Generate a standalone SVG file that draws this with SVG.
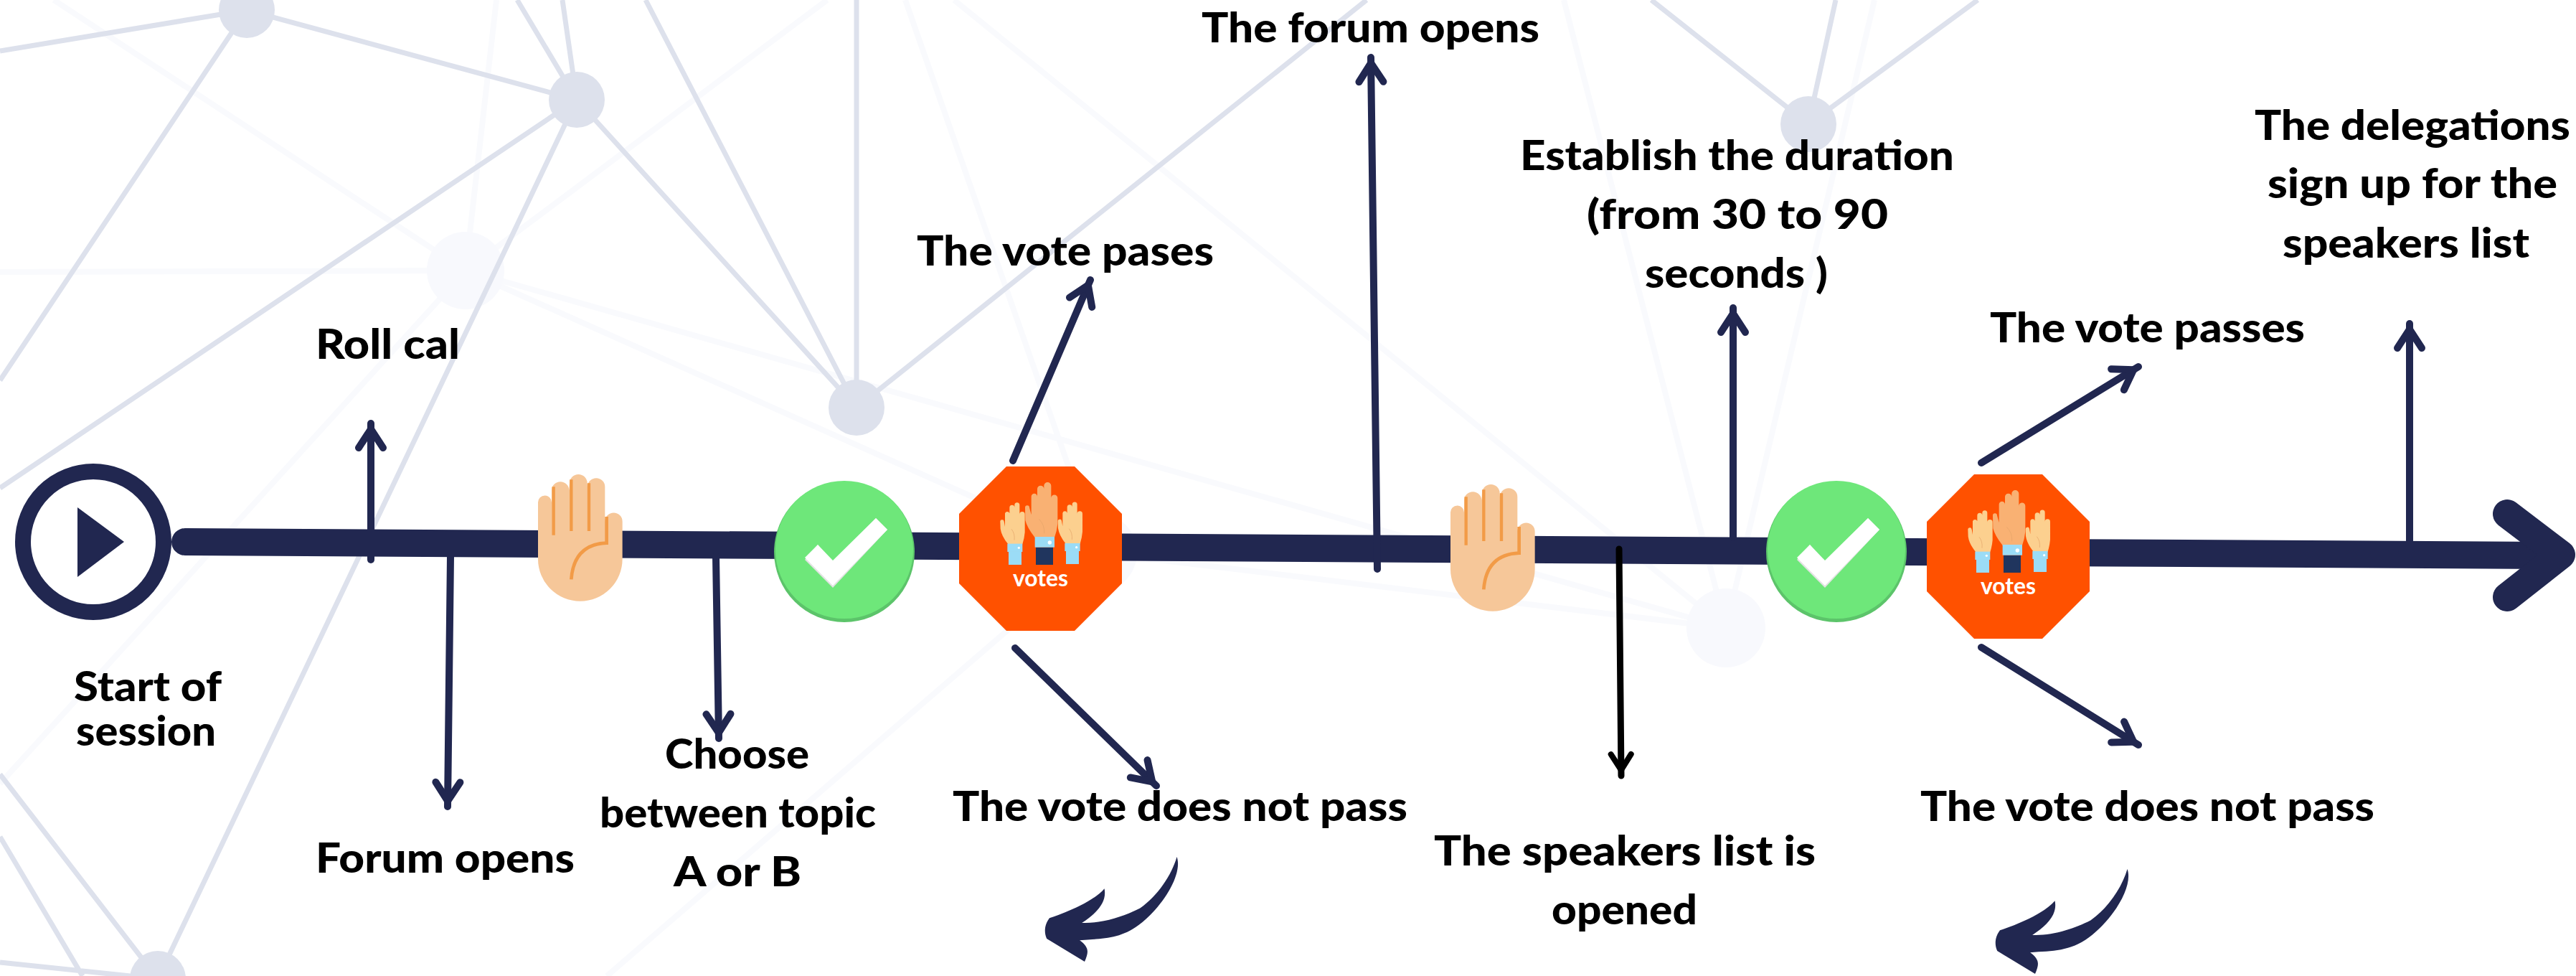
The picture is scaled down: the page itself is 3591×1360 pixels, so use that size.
<svg xmlns="http://www.w3.org/2000/svg" xmlns:xlink="http://www.w3.org/1999/xlink" width="3591" height="1360" viewBox="0 0 3591 1360">
<style>
.d{stroke:#dde1ec;stroke-width:7;fill:none}
.l{stroke:#f9fafd;stroke-width:8;fill:none}
.dn{fill:#dde1ec}
.ln{fill:#f8f9fd}
.t{font-family:"Lato","Liberation Sans",sans-serif;font-weight:900;font-size:58px;fill:#000}
.a{stroke:#212750;stroke-width:10;fill:none;stroke-linecap:round;marker-end:url(#head)}
.k{stroke:#000;stroke-width:9;fill:none;stroke-linecap:round;marker-end:url(#headk)}
.skin{fill:#f6c799}
.cr{stroke:#f29b47;fill:none}
.cuff{fill:#9bdcf6}
.crease{stroke:#e3a368;stroke-width:2;fill:none}
</style>
<defs>
<marker id="head" markerUnits="userSpaceOnUse" markerWidth="60" markerHeight="60" refX="50" refY="30" orient="auto" overflow="visible">
<path d="M16 13 L42 30 L16 47" fill="none" stroke="#212750" stroke-width="10" stroke-linecap="round" stroke-linejoin="miter"/>
</marker>
<marker id="headk" markerUnits="userSpaceOnUse" markerWidth="60" markerHeight="60" refX="50" refY="30" orient="auto" overflow="visible">
<path d="M20 16 L42 30 L20 44" fill="none" stroke="#000" stroke-width="8" stroke-linecap="round" stroke-linejoin="miter"/>
</marker>
<g id="hand">
<path class="skin" d="M90 387 L90 150 A28 28 0 0 1 147 150 L147 100 A35 35 0 0 1 220 100 L222 70 A37 37 0 0 1 296 70 L297 85 A36 36 0 0 1 370 85 L370 230 A36 36 0 0 1 443 230 L443 387 A176.5 176.5 0 0 1 90 387 Z"/>
<path class="cr" stroke-width="13" d="M155 85 L155 287 M229 55 L229 270 M303 70 L303 270"/>
<path class="cr" stroke-width="14" d="M377 210 L377 320 Q240 325 229 472"/>
</g>
<g id="check">
<circle cx="1177" cy="769" r="98" fill="#5cc46a"/>
<circle cx="1177" cy="766" r="96" fill="#6ee77a"/>
<path d="M1122 780 L1140 759 L1161 784 L1221 722 L1237 738 L1161 819 Z" fill="#e3e3e3"/>
<path d="M1122 777 L1140 759 L1161 781 L1221 722 L1237 738 L1161 816 Z" fill="#fff"/>
</g>
<g id="smallhand">
<path fill="#fcd08f" d="M283 292 A8 8 0 0 1 299 290 L303 312 L303 256 A10 10 0 0 1 322 256 L322 232 A10 10 0 0 1 343 232 L343 221 A10.500 10.500 0 0 1 364 221 L364 260 A11 11 0 0 1 386 260 L386 335 Q384 360 376 385 L316 385 Q288 350 284 320 Z"/>
<path class="crease" d="M330 322 Q345 340 342 368"/>
</g>
<g id="votes">
<polygon points="1403,650 1498,650 1564,716 1564,813 1498,879 1403,879 1337,813 1337,716" fill="#ff5100"/>
<g transform="translate(1300,630) scale(.3333)">
<use xlink:href="#smallhand" href="#smallhand"/>
<use xlink:href="#smallhand" href="#smallhand" x="241" y="-2"/>
<path fill="#f9b173" d="M387 232 A9 9 0 0 1 405 232 L413 262 L413 186 A12.500 12.500 0 0 1 438 186 L438 154 A14 14 0 0 1 466 154 L466 141 A15 15 0 0 1 496 141 L496 192 A13.500 13.500 0 0 1 523 192 L523 300 Q520 330 510 357 L428 357 Q395 315 388 285 Z"/>
<path class="crease" d="M445 280 Q470 305 467 340"/>
<rect class="cuff" x="318" y="417" width="54" height="54"/><rect class="cuff" x="313" y="383" width="63" height="34"/>
<rect class="cuff" x="558" y="414" width="54" height="54"/><rect class="cuff" x="553" y="381" width="64" height="33"/>
<rect fill="#20355e" x="432" y="398" width="72" height="73"/><rect class="cuff" x="428" y="354" width="82" height="44"/>
<circle cx="361" cy="400" r="5" fill="#fff"/><circle cx="602" cy="398" r="5" fill="#fff"/><circle cx="490" cy="378" r="8" fill="#fff"/>
</g>
<text x="1412" y="817" font-family="Lato,'Liberation Sans',sans-serif" font-weight="700" font-size="33" fill="#fff" textLength="77" lengthAdjust="spacingAndGlyphs">votes</text>
</g>
<path id="swoosh" fill="#212750" d="M445 1185 C456 1240 420 1345 375 1405 C340 1450 310 1448 268 1453 C285 1475 285 1490 277 1522 L208 1448 C202 1425 205 1400 213 1382 C250 1360 295 1325 313 1287 C318 1330 300 1365 272 1397 C310 1400 350 1375 378 1350 C410 1310 435 1245 445 1185 Z" transform="translate(1300,680) scale(.7653,.4337)"/>
</defs>

<g id="background">
<path class="l" d="M649 377 L75 0 M649 377 L0 379 M649 377 L692 0 M649 377 L1153 0 M649 377 L0 1092 M649 377 L2406 875 M649 377 L1530 770 L2406 875 M1262 0 L1500 680 M1330 0 L2406 875 M2180 0 L2406 875 M2613 0 L2406 875 M1530 770 L846 1360"/>
<circle class="ln" cx="649" cy="377" r="54"/>
<circle class="ln" cx="2406" cy="875" r="55"/>
<circle class="ln" cx="1530" cy="770" r="55"/>
<path class="d" d="M0 71 L344 14 L804 139 M344 14 L0 530 M804 139 L0 680 M804 139 L220 1364 M804 139 L1194 568 M804 139 L721 0 M804 139 L784 0 M900 0 L1194 568 M1194 0 L1194 568 L1905 0 M2302 0 L2521 173 L2559 0 M2521 173 L2757 0 M0 1079 L220 1364 M0 1166 L115 1360 M0 1341 L220 1364"/>
<circle class="dn" cx="344" cy="14" r="39"/>
<circle class="dn" cx="804" cy="139" r="39"/>
<circle class="dn" cx="1194" cy="568" r="39"/>
<circle class="dn" cx="220" cy="1364" r="39"/>
<circle class="dn" cx="2521" cy="173" r="39"/>
</g>

<g id="timeline">
<path d="M258 755 L3550 774" stroke="#212750" stroke-width="38" stroke-linecap="round" fill="none"/>
<path d="M3495 716 L3570 773 L3495 832" stroke="#212750" stroke-width="40" stroke-linecap="round" stroke-linejoin="round" fill="none"/>
</g>

<g id="connectors">
<path class="a" d="M517 780 L517 590"/>
<path class="a" d="M628 775 L624 1124"/>
<path class="a" d="M998 775 L1002 1029"/>
<path class="a" d="M1412 642 L1520 390"/>
<path class="a" d="M1415 903 L1612 1095"/>
<path class="a" d="M1920 793 L1911 80"/>
<path class="a" d="M2416 749 L2416 429"/>
<path class="k" d="M2257 765 L2260 1081"/>
<path class="a" d="M2762 645 L2981 511"/>
<path class="a" d="M2762 902 L2981 1038"/>
<path class="a" d="M3359 755 L3359 451"/>
<use xlink:href="#swoosh" href="#swoosh"/>
<use xlink:href="#swoosh" href="#swoosh" transform="translate(1325,17)"/>
</g>

<g id="node-start">
<circle cx="130" cy="755" r="98" fill="#fff" stroke="#212750" stroke-width="22"/>
<path d="M108 707 L173 755 L108 804 Z" fill="#212750"/>
<text class="t" x="103" y="977" textLength="206" lengthAdjust="spacingAndGlyphs">Start of</text>
<text class="t" x="106" y="1039" textLength="195" lengthAdjust="spacingAndGlyphs">session</text>
</g>
<g id="node-rollcal"><text class="t" x="440" y="500" textLength="201" lengthAdjust="spacingAndGlyphs">Roll cal</text></g>
<g id="node-forum-opens"><text class="t" x="440" y="1216" textLength="361" lengthAdjust="spacingAndGlyphs">Forum opens</text></g>
<g id="node-hand-1"><use xlink:href="#hand" href="#hand" transform="translate(720,650) scale(.3333)"/></g>
<g id="node-choose">
<text class="t" x="927" y="1071" textLength="201" lengthAdjust="spacingAndGlyphs">Choose</text>
<text class="t" x="836" y="1153" textLength="385" lengthAdjust="spacingAndGlyphs">between topic</text>
<text class="t" x="939" y="1235" textLength="178" lengthAdjust="spacingAndGlyphs">A or B</text>
</g>
<g id="node-check-1"><use xlink:href="#check" href="#check"/></g>
<g id="node-votes-1"><use xlink:href="#votes" href="#votes"/></g>
<g id="node-vote-pases"><text class="t" x="1278" y="370" textLength="414" lengthAdjust="spacingAndGlyphs">The vote pases</text></g>
<g id="node-vote-fail-1"><text class="t" x="1328" y="1144" textLength="634" lengthAdjust="spacingAndGlyphs">The vote does not pass</text></g>
<g id="node-forum-opens-2"><text class="t" x="1675" y="59" textLength="471" lengthAdjust="spacingAndGlyphs">The forum opens</text></g>
<g id="node-hand-2"><use xlink:href="#hand" href="#hand" transform="translate(1992,664) scale(.3333)"/></g>
<g id="node-speakers-open">
<text class="t" x="1999" y="1206" textLength="532" lengthAdjust="spacingAndGlyphs">The speakers list is</text>
<text class="t" x="2163" y="1288" textLength="203" lengthAdjust="spacingAndGlyphs">opened</text>
</g>
<g id="node-duration">
<text class="t" x="2119" y="237" textLength="605" lengthAdjust="spacingAndGlyphs">Establish the duration</text>
<text class="t" x="2212" y="319" textLength="420" lengthAdjust="spacingAndGlyphs">(from 30 to 90</text>
<text class="t" x="2293" y="401" textLength="255" lengthAdjust="spacingAndGlyphs">seconds )</text>
</g>
<g id="node-check-2"><use xlink:href="#check" href="#check" x="1383"/></g>
<g id="node-votes-2"><use xlink:href="#votes" href="#votes" x="1349" y="11"/></g>
<g id="node-vote-passes"><text class="t" x="2774" y="477" textLength="439" lengthAdjust="spacingAndGlyphs">The vote passes</text></g>
<g id="node-vote-fail-2"><text class="t" x="2677" y="1144" textLength="633" lengthAdjust="spacingAndGlyphs">The vote does not pass</text></g>
<g id="node-delegations">
<text class="t" x="3143" y="195" textLength="440" lengthAdjust="spacingAndGlyphs">The delegations</text>
<text class="t" x="3161" y="276" textLength="404" lengthAdjust="spacingAndGlyphs">sign up for the</text>
<text class="t" x="3182" y="359" textLength="344" lengthAdjust="spacingAndGlyphs">speakers list</text>
</g>
</svg>
